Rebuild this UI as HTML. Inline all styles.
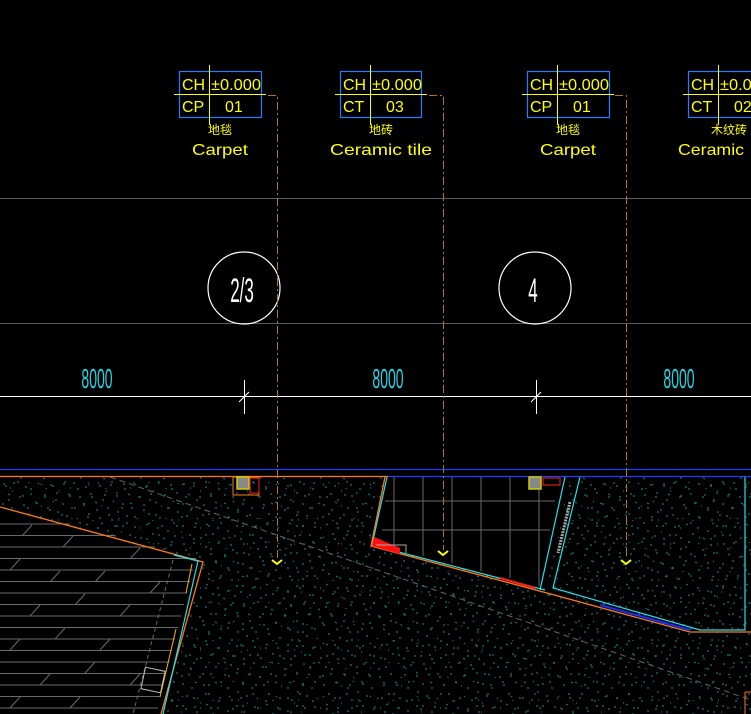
<!DOCTYPE html>
<html><head><meta charset="utf-8"><style>
html,body{margin:0;padding:0;background:#000;}
svg{display:block}
text{font-family:"Liberation Sans","Noto Sans CJK SC",sans-serif;}
</style></head><body>
<svg width="751" height="714" viewBox="0 0 751 714" xmlns="http://www.w3.org/2000/svg">
<defs>
<pattern id="sp" width="60" height="60" patternUnits="userSpaceOnUse">
<g stroke="#137474" stroke-width="1.2">
<path d="M3 4h2M14 2v2M25 7h2M38 3l1 1M50 5h2M57 12v2M8 14l2 1M19 17h2M31 13v2M44 15h2M53 21l1 1M2 24h2M12 27v2M23 25h2M35 22l2 1M47 28h2M58 31v2M6 36h2M17 38l1 1M28 34h2M40 37v2M51 40h2M3 45v2M14 47h2M26 44l2 1M37 48h2M48 50v2M56 46h2M9 55h2M21 57v2M32 54h2M43 58l2 1M54 56h2M29 2v1M41 26h1M10 8h1M46 8v1M20 48h1M33 40v1M1 52h1M58 40h1"/>
</g>
</pattern>
<pattern id="sp2" width="47" height="53" patternUnits="userSpaceOnUse">
<g stroke="#137474" stroke-width="1.2">
<path d="M5 9h2M18 4v2M30 12h2M41 7l1 1M9 22v2M22 19h2M36 26l2 1M2 33h2M15 37v2M27 31h2M40 40h2M7 46l2 1M20 49h2M33 45v2M44 20h2M12 14h1M25 41v1"/>
</g>
</pattern>
</defs>
<path d="M0 198.5H751M0 323.5H751" stroke="#5a5a5a" stroke-width="1"/>
<path d="M0 396.5H751" stroke="#fff" stroke-width="1"/>
<path d="M244.5 380V414M536.5 380V414M239 402l10 -10M531 402l10 -10" stroke="#fff" stroke-width="1"/>
<g fill="#22d4e6" font-size="28" text-anchor="middle">
<text x="97" y="388" transform="translate(97 388) scale(0.5 1) translate(-97 -388)">8000</text>
<text x="388" y="388" transform="translate(388 388) scale(0.5 1) translate(-388 -388)">8000</text>
<text x="679" y="388" transform="translate(679 388) scale(0.5 1) translate(-679 -388)">8000</text>
</g>
<circle cx="244" cy="288" r="36" fill="none" stroke="#fff" stroke-width="1.2"/>
<circle cx="535" cy="288" r="36" fill="none" stroke="#fff" stroke-width="1.2"/>
<text x="242" y="302" font-size="34" fill="#fff" text-anchor="middle" transform="translate(242 302) scale(0.5 1) translate(-242 -302)">2/3</text>
<text x="533" y="302" font-size="34" fill="#fff" text-anchor="middle" transform="translate(533 302) scale(0.5 1) translate(-533 -302)">4</text>

<rect x="0" y="477" width="751" height="237" fill="url(#sp)"/>
<rect x="0" y="477" width="751" height="237" fill="url(#sp2)"/>
<polygon points="0,507 203,562 160,714 0,714" fill="#000"/>
<g stroke="#6a6a6a" stroke-width="1">
<path d="M0 524H70M0 535.5H115M0 547H155M0 558.5H196M0 570H193M0 581.5H190M0 593H187M0 604.5H184M0 616H181M0 627.5H178M0 639H175M0 650.5H172M0 662H169M0 673.5H166M0 685H163M0 696.5H160M0 708H158"/>
<path d="M22 536l10-11M63 547l10-11M10 570l10-11M50 582l10-11M95 582l10-11M130 559l10-11M30 616l10-11M75 605l10-11M120 616l10-11M10 650l10-11M55 639l10-11M100 650l10-11M150 593l10-11M40 685l10-11M85 673l10-11M130 685l10-11M10 708l10-11M70 708l10-11"/>
<path d="M173 560L133 714" stroke-dasharray="4 3"/>
</g>
<path d="M0 507L203 562L161 714" fill="none" stroke="#ff7a10" stroke-width="1.3"/>
<path d="M174 555L198 561L163 714" fill="none" stroke="#22e0ee" stroke-width="1.2"/>
<path d="M192 564L186 593M176 629L160 697" stroke="#ffb000" stroke-width="1"/>
<rect x="143" y="669" width="20" height="22" fill="none" stroke="#bbb" transform="rotate(12 153 680)"/>
<polygon points="387,477 570,477 545,590 372,545" fill="#000"/>
<g stroke="#6a6a6a" stroke-width="1">
<path d="M385 501H555M382 530H550M394 477V548M423 477V556M452 477V563M481 477V571M510 477V578M539 477V586"/>
</g>
<path d="M387 477L372 545L545 590M565 477L540 590" fill="none" stroke="#22e0ee" stroke-width="1.2"/>
<path d="M385 477L371 546L547 593L690 632H751" fill="none" stroke="#ff7a10" stroke-width="1.3"/>
<path d="M580 477L553 588L700 630H745V477" fill="none" stroke="#22e0ee" stroke-width="1.2"/>
<path d="M600 605L690 630" stroke="#1530ff" stroke-width="2"/>
<path d="M500 578L535 588" stroke="#ff2020" stroke-width="2"/>
<path d="M570 502L558 553" stroke="#aaa" stroke-width="3" stroke-dasharray="2 1"/>
<polygon points="374,537 400,548 400,554 372,546" fill="#ff1010"/>
<path d="M376 545h30v8" fill="none" stroke="#aaa"/>
<path d="M110 477L751 700" stroke="#666" stroke-width="1" stroke-dasharray="6 4"/>
<path d="M0 469.5H751" stroke="#1a40ff" stroke-width="1.3"/>
<path d="M0 476.5H388" stroke="#ff7a10" stroke-width="1.3"/>
<path d="M388 476.5H751" stroke="#1a40ff" stroke-width="1.3"/>
<rect x="233" y="477" width="26" height="18" fill="none" stroke="#ff7a10"/>
<rect x="237" y="477" width="12" height="12" fill="#888" stroke="#cccc00" stroke-width="1.5"/>
<rect x="250" y="478" width="9" height="15" fill="none" stroke="#ff2020"/>
<rect x="529" y="477" width="12" height="12" fill="#888" stroke="#cccc00" stroke-width="1.5"/>
<rect x="543" y="478" width="17" height="7" fill="none" stroke="#ff2020"/>
<path d="M745 692v22M745 692h6" stroke="#ff7a10" fill="none"/>

<g stroke="#b07a10" stroke-width="1" stroke-dasharray="8 3 2 3" fill="none">
<path d="M268 95.5H277.5V558"/>
<path d="M429 95.5H443.5V550"/>
<path d="M615 95.5H626.5V558"/>
</g>
<g stroke="#ffff00" stroke-width="2" fill="none">
<path d="M272 560l5 4l5-4"/>
<path d="M438 551l5 4l5-4"/>
<path d="M621 560l5 4l5-4"/>
</g>

<g fill="none" stroke="#1e7fff" stroke-width="1.2">
<rect x="179.5" y="71.5" width="82" height="46"/>
<rect x="340.5" y="71.5" width="81" height="46"/>
<rect x="527.5" y="71.5" width="82" height="46"/>
<rect x="688.5" y="71.5" width="82" height="46"/>
</g>
<g stroke="#ffff00" stroke-width="1">
<path d="M174 94.5H266M209.5 65V125"/>
<path d="M335 94.5H427M370.5 65V125"/>
<path d="M522 94.5H614M557.5 65V125"/>
<path d="M683 94.5H751M718.5 65V125"/>
</g>
<g fill="#ffff00" font-size="16">
<text x="182" y="90">CH</text><text x="211" y="90" textLength="50" lengthAdjust="spacingAndGlyphs">±0.000</text>
<text x="182" y="112">CP</text><text x="225" y="112">01</text>
<text x="343" y="90">CH</text><text x="372" y="90" textLength="50" lengthAdjust="spacingAndGlyphs">±0.000</text>
<text x="343" y="112">CT</text><text x="386" y="112">03</text>
<text x="530" y="90">CH</text><text x="559" y="90" textLength="50" lengthAdjust="spacingAndGlyphs">±0.000</text>
<text x="530" y="112">CP</text><text x="573" y="112">01</text>
<text x="691" y="90">CH</text><text x="720" y="90" textLength="50" lengthAdjust="spacingAndGlyphs">±0.000</text>
<text x="691" y="112">CT</text><text x="734" y="112">02</text>
</g>
<g fill="#ffff00" text-anchor="middle">
<text x="220" y="134" font-size="12">地毯</text>
<text x="381" y="134" font-size="12">地砖</text>
<text x="568" y="134" font-size="12">地毯</text>
<text x="729" y="134" font-size="12">木纹砖</text>
<text x="220" y="155" font-size="16" textLength="56" lengthAdjust="spacingAndGlyphs">Carpet</text>
<text x="381" y="155" font-size="16" textLength="102" lengthAdjust="spacingAndGlyphs">Ceramic tile</text>
<text x="568" y="155" font-size="16" textLength="56" lengthAdjust="spacingAndGlyphs">Carpet</text>
<text x="711" y="155" font-size="16" textLength="66" lengthAdjust="spacingAndGlyphs">Ceramic</text>
</g>
</svg>
</body></html>
